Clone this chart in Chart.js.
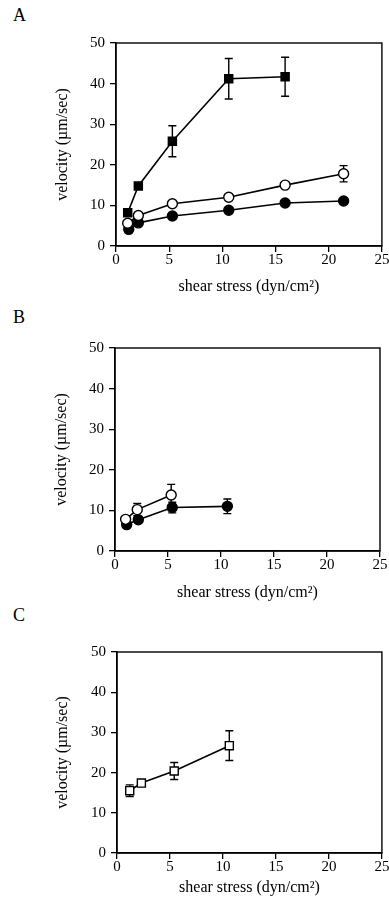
<!DOCTYPE html>
<html><head><meta charset="utf-8">
<script src="https://cdn.jsdelivr.net/npm/chart.js@4/dist/chart.umd.min.js"></script>
<style>
body{margin:0;background:#fff;width:389px;height:905px;position:relative;overflow:hidden;font-family:"Liberation Serif",serif}
.lbl{position:absolute;font-size:18px;line-height:18px;color:#000;font-family:"Liberation Serif",serif}
canvas{position:absolute;left:0}
</style></head><body>
<div class="lbl" style="left:13px;top:6px">A</div>
<div class="lbl" style="left:13px;top:308px">B</div>
<div class="lbl" style="left:13px;top:606px">C</div>
<canvas id="cA" style="top:0;width:389px;height:300px"></canvas>
<canvas id="cB" style="top:300px;width:389px;height:305px"></canvas>
<canvas id="cC" style="top:605px;width:389px;height:300px"></canvas>
<script>
// ---- data ----
const xTicks = [0, 5, 10, 15, 20, 25];
const yTicks = [0, 10, 20, 30, 40, 50];
const xTitle = 'shear stress (dyn/cm²)';
const yTitle = 'velocity (µm/sec)';

// Panel A
const aSqX = [1.1, 2.1, 5.3, 10.6, 15.9];
const aSqY = [8.2, 14.8, 25.8, 41.2, 41.7];
const aSqErr = [0.8, 0.8, 3.8, 5.0, 4.8];
const aOpenX = [1.1, 2.1, 5.3, 10.6, 15.9, 21.4];
const aOpenY = [5.6, 7.5, 10.4, 12.0, 15.0, 17.8];
const aOpenErr = [0.5, 0.6, 0.6, 0.7, 0.6, 2.0];
const aFillX = [1.2, 2.1, 5.3, 10.6, 15.9, 21.4];
const aFillY = [4.1, 5.7, 7.4, 8.8, 10.6, 11.1];
const aFillErr = [0.4, 0.5, 0.5, 0.6, 0.5, 0.5];

// Panel B
const bOpenX = [1.0, 2.1, 5.3];
const bOpenY = [7.8, 10.2, 13.8];
const bOpenErr = [0.6, 1.5, 2.6];
const bFillX = [1.1, 2.2, 5.4, 10.6];
const bFillY = [6.5, 7.7, 10.7, 11.0];
const bFillErr = [0.5, 0.6, 1.3, 1.8];

// Panel C
const cSqX = [1.2, 2.3, 5.4, 10.6];
const cSqY = [15.5, 17.4, 20.4, 26.7];
const cSqErr = [1.45, 0.6, 2.1, 3.7];

// ---- helpers ----
const FONT = '"Liberation Serif", "Times New Roman", serif';
const pts = (xs, ys) => xs.map((x, i) => ({x: x, y: ys[i]}));

function series(xs, ys, errs, kind) {
  const filled = kind === 'fillSq' || kind === 'fillCirc';
  const rect = kind === 'fillSq' || kind === 'openSq';
  return {
    data: pts(xs, ys),
    errors: errs,
    showLine: true,
    borderColor: '#000',
    borderWidth: 1.6,
    pointStyle: rect ? 'rect' : 'circle',
    pointRadius: rect ? 5.7 : 5,
    pointBackgroundColor: filled ? '#000' : '#fff',
    pointBorderColor: '#000',
    pointBorderWidth: 1.4,
    tension: 0
  };
}

const errorBars = {
  id: 'errorBars',
  beforeDatasetsDraw(chart) {
    const ctx = chart.ctx, xs = chart.scales.x, ys = chart.scales.y;
    ctx.save();
    ctx.strokeStyle = '#000';
    ctx.lineWidth = 1.4;
    chart.data.datasets.forEach(ds => {
      if (!ds.errors) return;
      ds.data.forEach((p, i) => {
        const e = ds.errors[i];
        const px = xs.getPixelForValue(p.x);
        const top = ys.getPixelForValue(p.y + e);
        const bot = ys.getPixelForValue(p.y - e);
        ctx.beginPath();
        ctx.moveTo(px, top); ctx.lineTo(px, bot);
        ctx.moveTo(px - 4, top); ctx.lineTo(px + 4, top);
        ctx.moveTo(px - 4, bot); ctx.lineTo(px + 4, bot);
        ctx.stroke();
      });
    });
    ctx.restore();
  }
};

const frame = {
  id: 'frame',
  afterDraw(chart) {
    const a = chart.chartArea, ctx = chart.ctx;
    ctx.save();
    ctx.strokeStyle = '#000';
    ctx.lineWidth = 1.4;
    ctx.strokeRect(a.left, a.top, a.right - a.left, a.bottom - a.top);
    ctx.restore();
  }
};

function makeChart(id, w, h, geo, datasets) {
  const cv = document.getElementById(id);
  cv.width = w; cv.height = h;
  return new Chart(cv, {
    type: 'scatter',
    data: {datasets: datasets},
    plugins: [errorBars, frame],
    options: {
      responsive: false,
      animation: false,
      devicePixelRatio: 1,
      layout: {padding: {left: 0, top: geo.top, right: geo.right, bottom: 0}},
      plugins: {legend: {display: false}, tooltip: {enabled: false}},
      scales: {
        x: {
          type: 'linear', min: 0, max: 25,
          afterBuildTicks: s => { s.ticks = xTicks.map(v => ({value: v})); },
          afterFit: s => { s.height = geo.xh; s.paddingLeft = 0; s.paddingRight = 0; },
          grid: {drawOnChartArea: false, tickLength: 6, color: '#000', lineWidth: 1.3},
          border: {color: '#000', width: 1.4},
          ticks: {color: '#000', font: {family: FONT, size: 15}, padding: -1, maxRotation: 0, autoSkip: false},
          title: {display: true, text: xTitle, color: '#000', font: {family: FONT, size: 16}, padding: {top: 0, bottom: geo.xtp}}
        },
        y: {
          type: 'linear', min: 0, max: 50,
          afterBuildTicks: s => { s.ticks = yTicks.map(v => ({value: v})); },
          afterFit: s => { s.width = geo.yw; s.paddingTop = 0; s.paddingBottom = 0; },
          grid: {drawOnChartArea: false, tickLength: 6, color: '#000', lineWidth: 1.3},
          border: {color: '#000', width: 1.4},
          ticks: {color: '#000', font: {family: FONT, size: 15}, padding: 5, autoSkip: false},
          title: {display: true, text: yTitle, color: '#000', font: {family: FONT, size: 16}, padding: {top: geo.ytp, bottom: 0}}
        }
      }
    }
  });
}

makeChart('cA', 389, 300, {top: 43, right: 7, xh: 54, yw: 116, xtp: 4, ytp: 53}, [
  series(aSqX, aSqY, aSqErr, 'fillSq'),
  series(aOpenX, aOpenY, aOpenErr, 'openCirc'),
  series(aFillX, aFillY, aFillErr, 'fillCirc')
]);
makeChart('cB', 389, 305, {top: 48, right: 9, xh: 54, yw: 115, xtp: 3, ytp: 52}, [
  series(bOpenX, bOpenY, bOpenErr, 'openCirc'),
  series(bFillX, bFillY, bFillErr, 'fillCirc')
]);
makeChart('cC', 389, 300, {top: 47, right: 7, xh: 52, yw: 117, xtp: 8, ytp: 53}, [
  series(cSqX, cSqY, cSqErr, 'openSq')
]);
</script>
</body></html>
